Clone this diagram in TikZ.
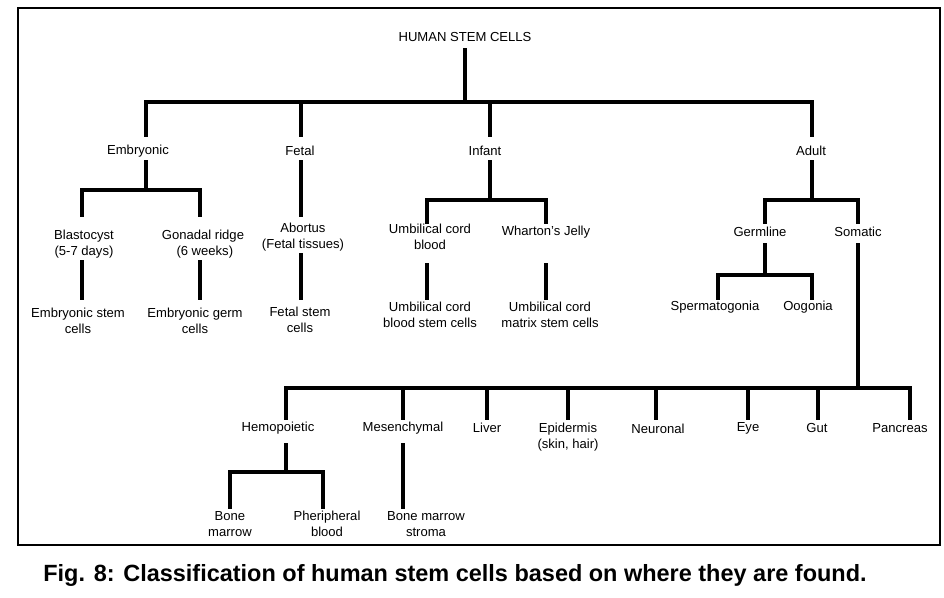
\documentclass[tikz,border=0pt]{standalone}
\usepackage{fontspec}
\setmainfont{Liberation Sans}
\begin{document}
\begin{tikzpicture}[x=0.75pt,y=-0.75pt,
  lab/.style={align=center,font=\fontsize{9.8}{12}\selectfont,inner sep=0pt},
  br/.style={line width=2.3pt,line cap=rect}]
\useasboundingbox (0,0) rectangle (944,598);
\draw[line width=1pt] (18,8) rectangle (940,545);
\node[lab] (root) at (465,37) {HUMAN STEM CELLS};
\node[lab] (emb) at (138,151) {Embryonic};
\node[lab] (fet) at (300,151) {Fetal};
\node[lab] (inf) at (485,151) {Infant};
\node[lab] (adu) at (811,151) {Adult};
\node[lab] (bla) at (84,244) {Blastocyst\\(5-7 days)};
\node[lab] (gon) at (203,244) {Gonadal ridge\\\ (6 weeks)};
\node[lab] (esc) at (78,321) {Embryonic stem\\cells};
\node[lab] (egc) at (195,321) {Embryonic germ\\cells};
\node[lab] (abo) at (303,237) {Abortus\\(Fetal tissues)};
\node[lab] (fsc) at (300,320) {Fetal stem\\cells};
\node[lab] (ucb) at (430,237) {Umbilical cord\\blood};
\node[lab] (wj) at (546,232) {Wharton's Jelly};
\node[lab] (ucbs) at (430,315) {Umbilical cord\\blood stem cells};
\node[lab] (ucms) at (550,315) {Umbilical cord\\matrix stem cells};
\node[lab] (ger) at (760,232) {Germline};
\node[lab] (som) at (858,232) {Somatic};
\node[lab] (spe) at (715,307) {Spermatogonia};
\node[lab] (oog) at (808,307) {Oogonia};
\node[lab] (hem) at (278,428) {Hemopoietic};
\node[lab] (mes) at (403,428) {Mesenchymal};
\node[lab] (liv) at (487,428) {Liver};
\node[lab] (epi) at (568,437) {Epidermis\\(skin, hair)};
\node[lab] (neu) at (658,429) {Neuronal};
\node[lab] (eye) at (748,428) {Eye};
\node[lab] (gut) at (817,428) {Gut};
\node[lab] (pan) at (900,428) {Pancreas};
\node[lab] (bm) at (230,524) {Bone\\marrow};
\node[lab] (pb) at (327,524) {Pheripheral\\blood};
\node[lab] (bms) at (426,524) {Bone marrow\\stroma};
\node[font=\fontsize{17.6}{21}\selectfont\bfseries,inner sep=0pt] (cap) at (455,575) {Fig. 8: Classification of human stem cells based on where they are found.};
% branches
\draw[br] (465,50)--(465,102);
\draw[br] (146,135)--(146,102)--(812,102)--(812,135);
\draw[br] (301,102)--(301,135); \draw[br] (490,102)--(490,135);
\draw[br] (146,162)--(146,190); \draw[br] (82,215)--(82,190)--(200,190)--(200,215);
\draw[br] (82,262)--(82,298); \draw[br] (200,262)--(200,298);
\draw[br] (301,162)--(301,215); \draw[br] (301,255)--(301,298);
\draw[br] (490,162)--(490,200); \draw[br] (427,222)--(427,200)--(546,200)--(546,222);
\draw[br] (427,265)--(427,298); \draw[br] (546,265)--(546,298);
\draw[br] (812,162)--(812,200); \draw[br] (765,222)--(765,200)--(858,200)--(858,222);
\draw[br] (765,245)--(765,275); \draw[br] (718,298)--(718,275)--(812,275)--(812,298);
\draw[br] (858,245)--(858,388);
\draw[br] (286,418)--(286,388)--(910,388)--(910,418);
\foreach \x in {403,487,568,656,748,818} \draw[br] (\x,388)--(\x,418);
\draw[br] (286,445)--(286,472); \draw[br] (230,507)--(230,472)--(323,472)--(323,507);
\draw[br] (403,445)--(403,507);
\end{tikzpicture}
\end{document}
